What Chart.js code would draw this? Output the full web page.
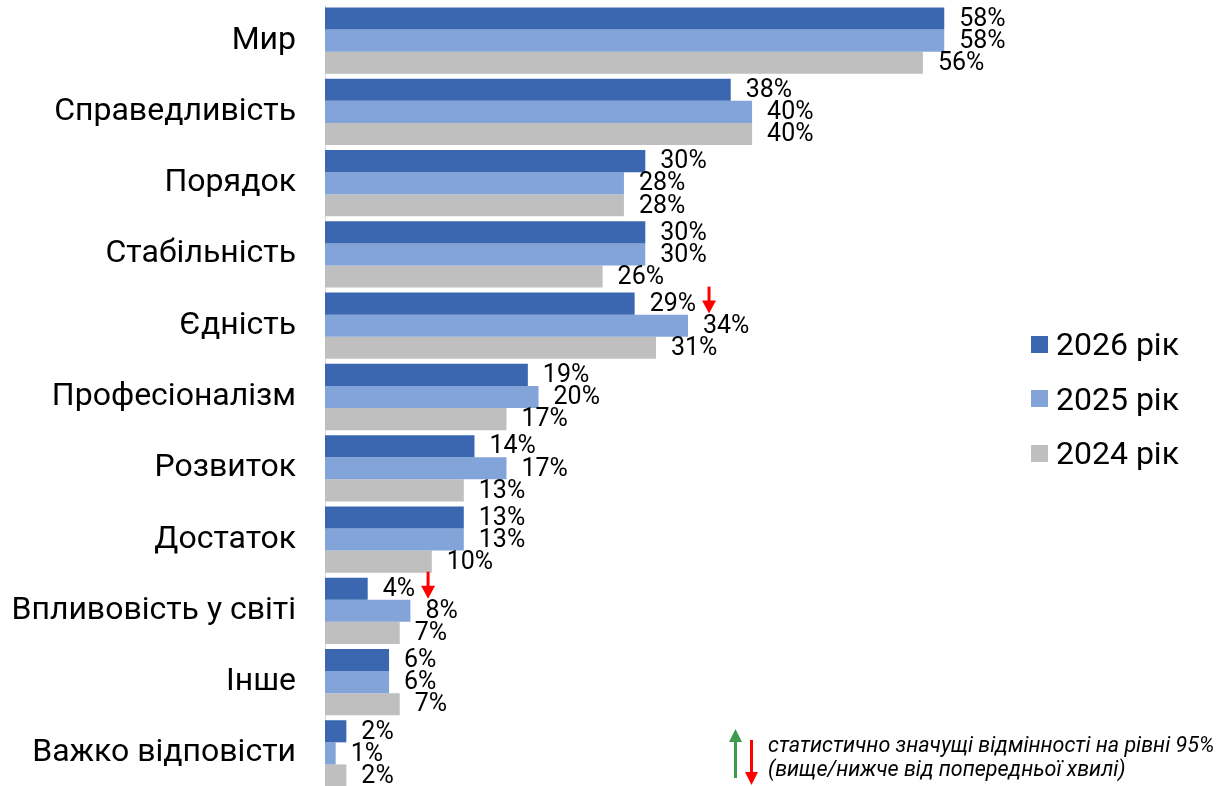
<!DOCTYPE html>
<html>
<head>
<meta charset="utf-8">
<script src="https://cdn.jsdelivr.net/npm/chart.js@4.4.0/dist/chart.umd.min.js"></script>
<style>
  html, body { margin: 0; padding: 0; background: #fff; overflow: hidden; }
  #wrap { position: relative; width: 1216px; height: 786px; overflow: hidden; font-family: Roboto, "Noto Sans", sans-serif; }
  #legend { position: absolute; left: 1031px; top: 317px; }
  .item { display: flex; align-items: center; height: 54.5px; font-size: 32px; color: #000; }
  .box { width: 17px; height: 17px; margin-right: 8px; }
  #note { position: absolute; left: 729px; top: 728px; width: 487px; height: 58px; }
  #note .txt { position: absolute; left: 39px; top: 5px; font-size: 21.5px; font-style: italic; line-height: 24px; color: #000; white-space: nowrap; }
</style>
</head>
<body>
<div id="wrap">
  <canvas id="chart" width="1216" height="792"></canvas>
  <div id="legend"></div>
  <div id="note">
    <svg width="36" height="58" style="position:absolute;left:0;top:0">
      <rect x="5" y="12" width="3" height="38" fill="#3f9a4f"/>
      <polygon points="0,14 6.5,1 13,14" fill="#3f9a4f"/>
      <rect x="21" y="12" width="3" height="34" fill="#f00"/>
      <polygon points="16,44 22.5,57 29,44" fill="#f00"/>
    </svg>
    <div class="txt">статистично значущі відмінності на рівні 95%<br>(вище/нижче від попередньої хвилі)</div>
  </div>
</div>
<script>
// categories and series (percent)
const categories = ['Мир', 'Справедливість', 'Порядок', 'Стабільність', 'Єдність', 'Професіоналізм',
  'Розвиток', 'Достаток', 'Впливовість у світі', 'Інше', 'Важко відповісти'];
const values2026 = [58, 38, 30, 30, 29, 19, 14, 13, 4, 6, 2];
const values2025 = [58, 40, 28, 30, 34, 20, 17, 13, 8, 6, 1];
const values2024 = [56, 40, 28, 26, 31, 17, 13, 10, 7, 7, 2];
// significance vs previous wave for 2026: -1 lower, 1 higher, 0 none
const sig2026 = [0, 0, 0, 0, -1, 0, 0, 0, -1, 0, 0];

const seriesNames = ['2026 рік', '2025 рік', '2024 рік'];
const seriesColors = ['#3a67b0', '#82a4d8', '#bfbfbf'];

// legend in html
document.getElementById('legend').innerHTML = seriesNames.map((n, i) =>
  `<div class="item"><span class="box" style="background:${seriesColors[i]}"></span>${n}</div>`).join('');

// value labels + arrows
const valueLabels = {
  id: 'valueLabels',
  afterDatasetsDraw(chart) {
    const ctx = chart.ctx;
    ctx.save();
    ctx.font = '25px Roboto, "Noto Sans", sans-serif';
    ctx.fillStyle = '#000';
    ctx.textBaseline = 'middle';
    ctx.textAlign = 'left';
    chart.data.datasets.forEach((ds, di) => {
      const meta = chart.getDatasetMeta(di);
      meta.data.forEach((bar, i) => {
        const txt = ds.data[i] + '%';
        const x = bar.x + 15;
        ctx.fillText(txt, x, bar.y + 1);
        if (di === 0 && sig2026[i] !== 0) {
          const ax = x + ctx.measureText(txt).width + 13;
          const top = bar.y - bar.height / 2 - 6;
          const len = 27;
          ctx.fillStyle = sig2026[i] < 0 ? '#f00' : '#3f9a4f';
          if (sig2026[i] < 0) {
            ctx.fillRect(ax - 1.5, top, 3, len - 10);
            ctx.beginPath();
            ctx.moveTo(ax - 7, top + len - 13);
            ctx.lineTo(ax + 7, top + len - 13);
            ctx.lineTo(ax, top + len);
            ctx.fill();
          }
          ctx.fillStyle = '#000';
        }
      });
    });
    ctx.restore();
  }
};

new Chart(document.getElementById('chart'), {
  type: 'bar',
  data: {
    labels: categories,
    datasets: [
      { label: seriesNames[0], data: values2026, backgroundColor: seriesColors[0] },
      { label: seriesNames[1], data: values2025, backgroundColor: seriesColors[1] },
      { label: seriesNames[2], data: values2024, backgroundColor: seriesColors[2] }
    ]
  },
  options: {
    indexAxis: 'y',
    responsive: false,
    animation: false,
    layout: { padding: { top: 5, bottom: 3, right: 197, left: 0 } },
    datasets: { bar: { categoryPercentage: 0.93, barPercentage: 1.0 } },
    plugins: { legend: { display: false }, tooltip: { enabled: false } },
    scales: {
      x: { display: false, min: 0, max: 65 },
      y: {
        afterFit(scale) { scale.width = 325; scale.paddingTop = 0; scale.paddingBottom = 0; },
        grid: { display: false, drawTicks: false },
        border: { display: true, color: '#d9d9d9', width: 1 },
        ticks: { color: '#000', padding: 29, autoSkip: false, font: { size: 32, family: 'Roboto, "Noto Sans", sans-serif' } }
      }
    }
  },
  plugins: [valueLabels]
});
</script>
</body>
</html>
